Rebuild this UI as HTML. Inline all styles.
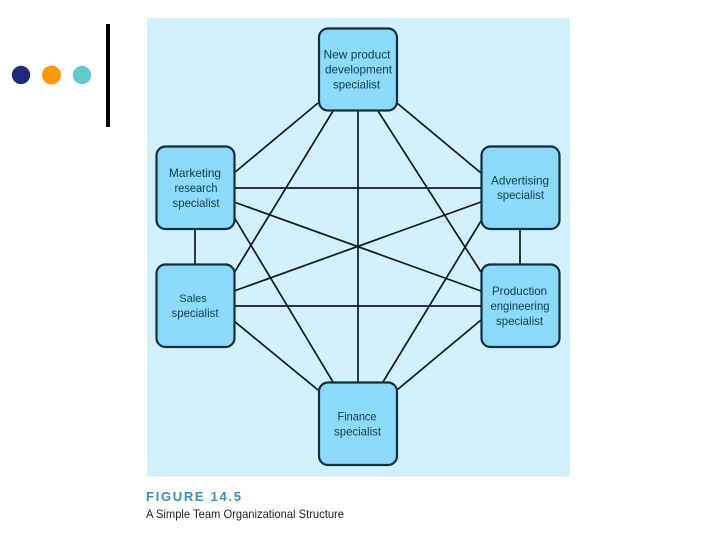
<!DOCTYPE html>
<html>
<head>
<meta charset="utf-8">
<style>
html,body{margin:0;padding:0;background:#fff;width:720px;height:540px;overflow:hidden}
svg{display:block}
text{font-family:"Liberation Sans",sans-serif}
.n{font-size:12px;fill:#123c52;text-anchor:middle}
</style>
</head>
<body>
<svg width="720" height="540" viewBox="0 0 720 540" xmlns="http://www.w3.org/2000/svg">
<rect width="720" height="540" fill="#fff"/>
<circle cx="21" cy="75" r="9.2" fill="#1f2a78"/>
<circle cx="51.500" cy="75" r="9.500" fill="#ff9a05"/>
<circle cx="82" cy="75" r="9.200" fill="#5fcbcd"/>
<rect x="106" y="24" width="4" height="103" fill="#000"/>
<rect x="147" y="18" width="423" height="458.500" fill="#d3f0fd"/>
<g stroke="#0c1a22" stroke-width="1.700" fill="none">
<path d="M318 103L234 173"/>
<path d="M333 111L234 273"/>
<path d="M358 111V382"/>
<path d="M378 111L481 272"/>
<path d="M397 103L481 173"/>
<path d="M234 188H481"/>
<path d="M234 202L481 291"/>
<path d="M234 217L333 382"/>
<path d="M234 291L481 202"/>
<path d="M234 306H481"/>
<path d="M234 321L318 390"/>
<path d="M481 221L383 382"/>
<path d="M481 320L397 390"/>
<path d="M195 229V264"/>
<path d="M520 229V264"/>
</g>
<g fill="#8cd9fa" stroke="#10303f" stroke-width="2.200">
<rect x="319" y="28.500" width="78" height="82" rx="9"/>
<rect x="156.500" y="146.500" width="78" height="82.500" rx="9"/>
<rect x="156.500" y="264.500" width="78" height="82.500" rx="9"/>
<rect x="481.500" y="146.500" width="78" height="82.500" rx="9"/>
<rect x="481.500" y="264.500" width="78" height="82.500" rx="9"/>
<rect x="319" y="382.500" width="78" height="82.500" rx="9"/>
</g>
<text class="n" x="357" y="58.500" textLength="67" lengthAdjust="spacingAndGlyphs">New product</text>
<text class="n" x="358.500" y="73.500" textLength="67" lengthAdjust="spacingAndGlyphs">development</text>
<text class="n" x="356.500" y="88.500" textLength="47" lengthAdjust="spacingAndGlyphs">specialist</text>
<text class="n" x="195" y="177" textLength="52" lengthAdjust="spacingAndGlyphs">Marketing</text>
<text class="n" x="196" y="192" style="font-size:11.500px" textLength="43" lengthAdjust="spacingAndGlyphs">research</text>
<text class="n" x="196" y="207" textLength="47" lengthAdjust="spacingAndGlyphs">specialist</text>
<text class="n" x="193" y="302" style="font-size:11px">Sales</text>
<text class="n" x="195" y="317" textLength="47" lengthAdjust="spacingAndGlyphs">specialist</text>
<text class="n" x="520" y="184.500" textLength="58" lengthAdjust="spacingAndGlyphs">Advertising</text>
<text class="n" x="520.500" y="199" textLength="47" lengthAdjust="spacingAndGlyphs">specialist</text>
<text class="n" x="519.500" y="295" textLength="55" lengthAdjust="spacingAndGlyphs">Production</text>
<text class="n" x="520" y="310" textLength="59" lengthAdjust="spacingAndGlyphs">engineering</text>
<text class="n" x="519.500" y="325" textLength="47" lengthAdjust="spacingAndGlyphs">specialist</text>
<text class="n" x="357" y="420.500" textLength="39" lengthAdjust="spacingAndGlyphs">Finance</text>
<text class="n" x="357.500" y="435.500" textLength="47" lengthAdjust="spacingAndGlyphs">specialist</text>
<text x="146" y="501" font-size="13" font-weight="bold" fill="#3a8fb5" textLength="95" lengthAdjust="spacing">FIGURE 14.5</text>
<text x="146" y="518" font-size="12" fill="#222" textLength="198" lengthAdjust="spacingAndGlyphs">A Simple Team Organizational Structure</text>
</svg>
</body>
</html>
